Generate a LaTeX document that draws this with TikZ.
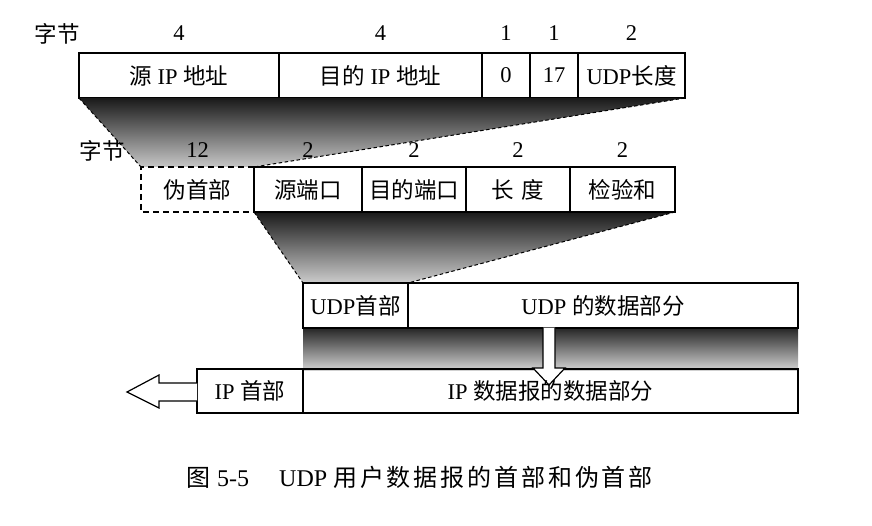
\documentclass[tikz,border=0pt]{standalone}
\usepackage{fontspec}
\setmainfont{Liberation Serif}
\newfontfamily\cjk{Noto Sans CJK SC}
\newfontfamily\cjkcap[LetterSpace=12]{Noto Sans CJK SC}
\newcommand\zh[1]{{\cjk #1}}
\newcommand\zhc[1]{{\cjkcap #1}}
\begin{document}
\begin{tikzpicture}[x=1pt,y=-1pt,
  txt/.style={font=\fontsize{22.5}{25}\selectfont, inner sep=0pt},
  field/.style={txt, draw, line width=1.5pt, inner sep=0pt, outer sep=0pt, anchor=north west, minimum height=45pt},
  dfield/.style={txt, inner sep=0pt, outer sep=0pt, anchor=north west, minimum height=45pt},
  guide/.style={line width=1pt, dash pattern=on 3.5pt off 2.5pt},
  boxdash/.style={line width=1.6pt, dash pattern=on 6pt off 4pt},
  blockarrow/.style={draw, fill=white, line width=1.2pt, line join=miter}]
\useasboundingbox (0,0) rectangle (872,526);
\fill[white] (0,0) rectangle (872,526);

% ---------- top row (pseudo header) ----------
\node[field, minimum width=200pt] (sip) at (79,53) {\zh{源} IP \zh{地址}};
\node[field, minimum width=203pt] (dip) at (279,53) {\zh{目的} IP \zh{地址}};
\node[field, minimum width=48pt] (zero) at (482,53) {0};
\node[field, minimum width=48pt] (proto) at (530,53) {17};
\node[field, minimum width=107pt] (ulen) at (578,53) {UDP\zh{长度}};

\node[txt] (b0) at (57,34) {\zh{字节}};
\node[txt] (b1) at (sip.north |- 0,33) {4};
\node[txt] (b2) at (dip.north |- 0,33) {4};
\node[txt] (b3) at (zero.north |- 0,33) {1};
\node[txt] (b4) at (proto.north |- 0,33) {1};
\node[txt] (b5) at (ulen.north |- 0,33) {2};

% ---------- middle row (UDP header) ----------
\coordinate (psnw) at (141,167);
\coordinate (psse) at (254,212);

% shading from top row to pseudo header
\shade[top color=black!90, bottom color=black!22]
  (sip.south west) -- (ulen.south east) -- (psse |- psnw) -- (psnw) -- cycle;
\draw[guide] (ulen.south east) -- (psse |- psnw);
\draw[guide] (sip.south west) -- (psnw);

% shading from UDP header to UDP header box
\coordinate (uhnw) at (303,283);
\coordinate (uhne) at (408,283);
\shade[top color=black!90, bottom color=black!20]
  (254,212) -- (675,212) -- (uhne) -- (uhnw) -- cycle;
\draw[guide] (675,212) -- (uhne);
\draw[guide] (254,212) -- (uhnw);

\node[dfield, fill=white, minimum width=113pt] (ps) at (psnw) {\zh{伪首部}};
\draw[boxdash] (ps.north east) -- (ps.north west) -- (ps.south west) -- (ps.south east);
\node[field, minimum width=108pt] (sport) at (254,167) {\zh{源端口}};
\node[field, minimum width=104pt] (dport) at (362,167) {\zh{目的端口}};
\node[field, minimum width=104pt] (len) at (466,167) {\zh{长\hspace{8pt}度}};
\node[field, minimum width=105pt] (csum) at (570,167) {\zh{检验和}};

\node[txt] (m0) at (102,151) {\zh{字节}};
\node[txt] (m1) at (ps.north |- 0,150) {12};
\node[txt] (m2) at (sport.north |- 0,150) {2};
\node[txt] (m3) at (dport.north |- 0,150) {2};
\node[txt] (m4) at (len.north |- 0,150) {2};
\node[txt] (m5) at (csum.north |- 0,150) {2};

% ---------- UDP datagram ----------
\shade[top color=black!85, bottom color=black!18] (303,328) rectangle (798,370);
\node[field, fill=white, minimum width=105pt] (uh) at (uhnw) {UDP\zh{首部}};
\node[field, fill=white, minimum width=390pt] (ud) at (uhne) {UDP \zh{的数据部分}};

% ---------- IP datagram ----------
\node[field, minimum width=106pt, minimum height=44pt] (iph) at (197,369) {IP \zh{首部}};
\node[field, minimum width=495pt, minimum height=44pt] (ipd) at (303,369) {};

% down block arrow
\draw[blockarrow] (543,327.5) -- (543,368) -- (533,368) -- (549,385) -- (565,368) -- (555,368) -- (555,327.5);
\node[txt] (ipdt) at (ipd.center) {IP \zh{数据报的数据部分}};

% left block arrow
\draw[blockarrow] (iph.west |- 0,383) -- (159,383) -- (159,375) -- (127,392) -- (159,408) -- (159,401) -- (iph.west |- 0,401);

% caption
\node[anchor=west, inner sep=0pt, font=\fontsize{24}{27}\selectfont] (cap) at (186,477)
  {\zhc{图}\hspace{7pt}5-5\hspace{30pt}UDP\hspace{6pt}\zhc{用户数据报的首部和伪首部}};
\end{tikzpicture}
\end{document}
